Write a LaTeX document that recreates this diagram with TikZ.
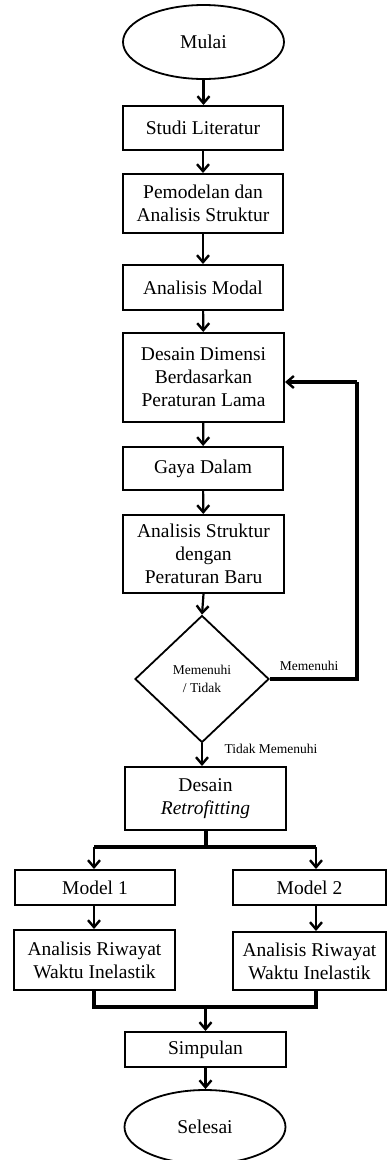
\documentclass[tikz,border=0pt]{standalone}
\usepackage{fontspec}
\setmainfont{Liberation Serif}
\usetikzlibrary{arrows.meta,shapes.geometric}
\begin{document}
\begin{tikzpicture}[x=1pt,y=-1pt,
  every node/.style={font=\fontsize{19.5}{23}\selectfont, align=center, inner sep=0pt},
  box/.style={draw, line width=2pt, rectangle, minimum width=#1},
  box/.default=160pt,
  term/.style={draw, line width=1.8pt, ellipse, minimum width=161pt, minimum height=74pt},
  dec/.style={draw, line width=1.8pt, diamond, minimum width=134pt, minimum height=127pt, font=\fontsize{13.5}{18}\selectfont},
  lbl/.style={font=\fontsize{13.5}{16}\selectfont},
  arr/.style={-{Straight Barb[length=7pt,width=12pt,line width=2.4pt]}, line width=2.2pt},
  heavy/.style={line width=4pt},
]
\useasboundingbox (0,0) rectangle (388,1160);
\node[term] (mulai) at (203.5,42) {Mulai};
\node[box, minimum height=44pt] (studi) at (203,128) {Studi Literatur};
\node[box, minimum height=59pt] (pemod) at (203,203.5) {Pemodelan dan\\Analisis Struktur};
\node[box, minimum height=45pt] (modal) at (203,287.5) {Analisis Modal};
\node[box=161pt, minimum height=89pt] (desain) at (203.5,377.5) {Desain Dimensi\\Berdasarkan\\Peraturan Lama};
\node[box, minimum height=43pt] (gaya) at (203,468.5) {Gaya Dalam};
\node[box=161pt, minimum height=78pt] (anstruk) at (203.5,554) {Analisis Struktur\\dengan\\Peraturan Baru};
\node[dec] (dia) at (202,679) {Memenuhi\\/ Tidak};
\node[box=161pt, minimum height=63pt] (retro) at (205.5,798.5) {Desain\\\textit{Retrofitting}};
\node[box, minimum height=35pt] (m1) at (95,887.5) {Model 1};
\node[box=153pt, minimum height=35pt] (m2) at (309.5,887.5) {Model 2};
\node[box=161pt, minimum height=60pt] (ar1) at (94.5,960) {Analisis Riwayat\\Waktu Inelastik};
\node[box=153pt, minimum height=58pt] (ar2) at (309.5,961) {Analisis Riwayat\\Waktu Inelastik};
\node[box=161pt, minimum height=35pt] (simp) at (205.5,1049.5) {Simpulan};
\node[term] (sel) at (205,1127) {Selesai};

\node[lbl] (lmem) at (309,666) {Memenuhi};
\node[lbl] (ltid) at (271,749) {Tidak Memenuhi};

\draw[arr] (mulai.south) -- (mulai.south |- studi.north);
\draw[arr] (studi) -- (pemod);
\draw[arr] (pemod) -- (modal);
\draw[arr] (modal) -- (desain);
\draw[arr] (desain) -- (gaya);
\draw[arr] (gaya) -- (anstruk);
\draw[arr] (anstruk.south) -- (dia.north);
\draw[arr] (dia.south) -- (dia.south |- retro.north);

\coordinate (fb) at (357,679);
\coordinate (din) at ([yshift=-4.5pt]desain.east);
\coordinate (ftop) at (fb |- din);
\draw[heavy] (dia.east) -- (fb) -- (ftop);
\draw[arr, line width=4pt] (ftop) -- (din);

\coordinate (bj) at (205.5,847);
\coordinate (bl) at (94,847);
\coordinate (brr) at (316,847);
\draw[heavy] (retro.south) -- (bj);
\draw[heavy] (bl) -- (brr);
\draw[arr] (bl) -- (bl |- m1.north);
\draw[arr] (brr) -- (brr |- m2.north);
\draw[arr] (m1.south -| bl) -- (bl |- ar1.north);
\draw[arr] (m2.south -| brr) -- (brr |- ar2.north);

\coordinate (ml) at (94,1007);
\coordinate (mr) at (316,1007);
\coordinate (mj) at (205.5,1007);
\draw[heavy] (ar1.south -| ml) -- (ml) -- (mr) -- (ar2.south -| mr);
\draw[arr] (mj) -- (simp.north);
\draw[arr] (simp.south) -- (simp.south |- sel.north);
\end{tikzpicture}
\end{document}
